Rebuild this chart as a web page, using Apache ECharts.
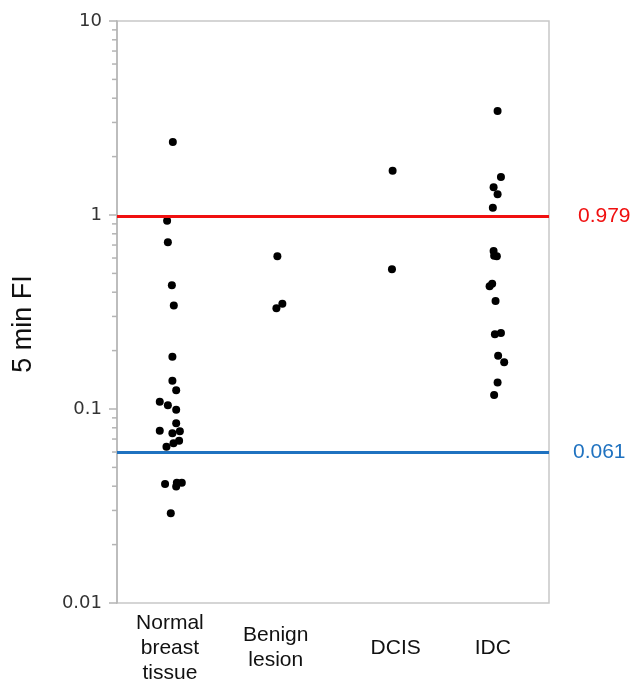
<!DOCTYPE html>
<html>
<head>
<meta charset="utf-8">
<script src="https://cdn.jsdelivr.net/npm/echarts@6/dist/echarts.min.js"></script>
<style>
  html, body { margin: 0; padding: 0; background: #fff; }
  #chart { width: 635px; height: 682px; }
</style>
</head>
<body>
<div id="chart"></div>
<script>
// groups on the x axis
var categories = ['Normal\nbreast\ntissue', 'Benign\nlesion', 'DCIS', 'IDC'];
var categoryPos = [0.49, 1.47, 2.58, 3.48];

// jittered x position and 5 min FI value of each sample
var normalX = [0.517, 0.464, 0.471, 0.508, 0.526, 0.513, 0.513, 0.548, 0.396, 0.471, 0.548, 0.548,
               0.396, 0.513, 0.582, 0.575, 0.523, 0.458, 0.445, 0.548, 0.554, 0.600, 0.498];
var normalY = [2.38, 0.935, 0.723, 0.434, 0.342, 0.186, 0.140, 0.125, 0.109, 0.1045, 0.099, 0.0844,
               0.0773, 0.0749, 0.0767, 0.0687, 0.0666, 0.0639, 0.0411, 0.0398, 0.0417, 0.0417, 0.0290];
var benignX = [1.485, 1.476, 1.531];
var benignY = [0.613, 0.331, 0.349];
var dcisX = [2.552, 2.546];
var dcisY = [1.69, 0.525];
var idcX = [3.524, 3.555, 3.487, 3.524, 3.480, 3.487, 3.492, 3.517, 3.474, 3.450, 3.505, 3.499,
            3.555, 3.529, 3.585, 3.524, 3.492];
var idcY = [3.44, 1.57, 1.39, 1.28, 1.09, 0.652, 0.617, 0.613, 0.4425, 0.429, 0.360, 0.2427,
            0.2465, 0.188, 0.174, 0.137, 0.118];

// cut-off lines
var cutValues = [0.979, 0.061];
var cutLabels = ['0.979', '0.061'];
var cutColors = ['#f01010', '#1f72c0'];

// minor ticks on the log axis
var minorTicks = [];
[0.01, 0.1, 1].forEach(function (d) {
    for (var k = 2; k <= 9; k++) minorTicks.push(+(d * k).toPrecision(3));
});

function pairs(xs, ys) {
    return xs.map(function (x, i) { return [x, ys[i]]; });
}
var points = [].concat(pairs(normalX, normalY), pairs(benignX, benignY),
                       pairs(dcisX, dcisY), pairs(idcX, idcY));

var chart = echarts.init(document.getElementById('chart'));

var option = {
    animation: false,
    grid: {
        left: 117, right: 86, top: 21, bottom: 79,
        containLabel: false,
        outerBoundsMode: 'none',
        show: true, borderColor: '#c8c8c8', borderWidth: 1.5, backgroundColor: '#fff'
    },
    xAxis: {
        type: 'value',
        min: 0, max: 4,
        axisLine: { show: false },
        axisTick: { show: false },
        splitLine: { show: false },
        axisLabel: {
            customValues: categoryPos,
            formatter: function (v) {
                var i = categoryPos.indexOf(v);
                return i >= 0 ? categories[i] : '';
            },
            fontFamily: 'Liberation Sans',
            fontSize: 21,
            lineHeight: 25,
            color: '#111',
            verticalAlign: 'middle',
            margin: 45
        }
    },
    yAxis: {
        type: 'log',
        logBase: 10,
        min: 0.01, max: 10,
        name: '5 min FI',
        nameLocation: 'middle',
        nameGap: 80,
        nameTextStyle: {
            fontFamily: 'Liberation Sans', fontSize: 27, color: '#111',
            padding: [0, 24, 0, 0]
        },
        axisLine: { show: true, lineStyle: { color: '#b4b4b4', width: 1.5 } },
        axisTick: { show: true, length: 8, lineStyle: { color: '#b4b4b4', width: 1.5 } },
        splitLine: { show: false },
        axisLabel: {
            fontFamily: 'DejaVu Sans',
            fontSize: 18,
            color: '#333',
            margin: 15,
            formatter: function (v) { return String(+v.toPrecision(3)); }
        }
    },
    series: [
        {
            type: 'scatter',
            data: points,
            symbolSize: 8,
            itemStyle: { color: '#000', opacity: 1 },
            z: 3,
            markLine: {
                silent: true,
                symbol: 'none',
                data: cutValues.map(function (v, i) {
                    return {
                        yAxis: v,
                        lineStyle: { color: cutColors[i], width: 3, type: 'solid' },
                        label: {
                            show: true,
                            position: 'end',
                            distance: i === 0 ? 29 : 24,
                            formatter: cutLabels[i],
                            color: cutColors[i],
                            fontFamily: 'Liberation Sans',
                            fontSize: 21
                        }
                    };
                })
            }
        },
        {
            type: 'custom',
            clip: false,
            silent: true,
            data: minorTicks.map(function (v) { return [0, v]; }),
            renderItem: function (params, api) {
                var p = api.coord([0, api.value(1)]);
                return {
                    type: 'line',
                    shape: { x1: p[0] - 5, y1: p[1], x2: p[0], y2: p[1] },
                    style: { stroke: '#b4b4b4', lineWidth: 1.5 }
                };
            }
        }
    ]
};

chart.setOption(option);
</script>
</body>
</html>
